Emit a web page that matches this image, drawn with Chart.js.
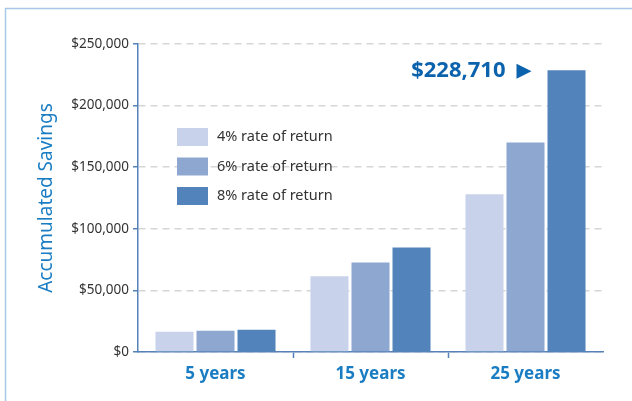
<!DOCTYPE html>
<html>
<head>
<meta charset="utf-8">
<title>Accumulated Savings</title>
<script src="https://cdn.jsdelivr.net/npm/chart.js@4.4.1/dist/chart.umd.min.js"></script>
<style>
    html, body { margin: 0; padding: 0; background: #ffffff; }
    #wrap { position: relative; width: 632px; height: 401px; }
</style>
</head>
<body>
<div id="wrap"><canvas id="savingsChart" width="632" height="401"></canvas></div>
<script>
// ==========================================
// Data
// ==========================================
const categorias = ['5 years', '15 years', '25 years'];
const serieLabels = ['4% rate of return', '6% rate of return', '8% rate of return'];
const rate4 = [16500, 61500, 128000];
const rate6 = [17300, 72600, 170000];
const rate8 = [18100, 84800, 228710];
const yTicks = [0, 50000, 100000, 150000, 200000, 250000];

// Colours for each rate (light -> dark)
const colores = ['#c8d2ea', '#8ea7d0', '#5383bb'];
const azulTexto = '#1a7dc3';
const azulEje = '#5583b9';

Chart.defaults.font.family = '"Noto Sans", "DejaVu Sans", sans-serif';

const fmt = v => '$' + v.toLocaleString('en-US');

// ==========================================
// Plugins
// ==========================================

// Light blue frame at the top and left of the picture
const framePlugin = {
    id: 'frame',
    beforeDraw(chart) {
        const ctx = chart.ctx;
        ctx.save();
        ctx.strokeStyle = '#a9c7e8';
        ctx.lineWidth = 1.5;
        ctx.beginPath();
        ctx.moveTo(5.5, chart.height);
        ctx.lineTo(5.5, 8.5);
        ctx.lineTo(chart.width, 8.5);
        ctx.stroke();
        ctx.restore();
    }
};

// Legend drawn inside the chart area, top-left
const legendPlugin = {
    id: 'insideLegend',
    afterDatasetsDraw(chart) {
        const ctx = chart.ctx;
        const area = chart.chartArea;
        const x = area.left + 39;
        let y = area.top + 84;
        ctx.save();
        ctx.font = '14.5px "Noto Sans", sans-serif';
        ctx.textBaseline = 'middle';
        chart.data.datasets.forEach(ds => {
            ctx.fillStyle = ds.backgroundColor;
            ctx.fillRect(x, y, 31, 18);
            ctx.fillStyle = '#333333';
            ctx.fillText(ds.label, x + 40, y + 9);
            y += 29.5;
        });
        ctx.restore();
    }
};

// "$228,710 ▶" callout pointing at the tallest bar
const calloutPlugin = {
    id: 'callout',
    afterDatasetsDraw(chart) {
        const last = rate8.length - 1;
        const bar = chart.getDatasetMeta(2).data[last];
        if (!bar) return;
        const ctx = chart.ctx;
        const tip = bar.x - bar.width / 2 - 16;
        const cy = bar.y + 1;
        ctx.save();
        ctx.fillStyle = '#0b62ad';
        ctx.beginPath();
        ctx.moveTo(tip, cy);
        ctx.lineTo(tip - 15, cy - 7.5);
        ctx.lineTo(tip - 15, cy + 7.5);
        ctx.closePath();
        ctx.fill();
        ctx.font = 'bold 22px "Noto Sans", sans-serif';
        ctx.textAlign = 'right';
        ctx.textBaseline = 'middle';
        ctx.fillText(fmt(rate8[last]), tip - 26, cy);
        ctx.restore();
    }
};

// ==========================================
// Chart
// ==========================================
const series = [rate4, rate6, rate8];

new Chart(document.getElementById('savingsChart').getContext('2d'), {
    type: 'bar',
    data: {
        labels: categorias,
        datasets: series.map((vals, i) => ({
            label: serieLabels[i],
            data: vals,
            backgroundColor: colores[i],
            borderWidth: 0,
            categoryPercentage: 0.794,
            barPercentage: 0.927
        }))
    },
    options: {
        responsive: false,
        animation: false,
        layout: { padding: { top: 44, right: 29, left: 0, bottom: 0 } },
        plugins: {
            legend: { display: false },
            tooltip: { enabled: false }
        },
        scales: {
            x: {
                offset: true,
                grid: {
                    offset: true,
                    drawOnChartArea: false,
                    tickLength: 6,
                    tickWidth: 1.5,
                    color: c => (c.index === 0 || c.index === undefined) ? 'rgba(0,0,0,0)' : azulEje
                },
                border: { color: azulEje, width: 1.5 },
                ticks: {
                    color: azulTexto,
                    font: { size: 17, weight: 'bold' },
                    padding: 6
                },
                afterFit: s => { s.height = 49; }
            },
            y: {
                min: yTicks[0],
                max: yTicks[yTicks.length - 1],
                afterBuildTicks: s => { s.ticks = yTicks.map(v => ({ value: v })); },
                grid: {
                    color: '#d6d6d6',
                    lineWidth: 1.5,
                    tickColor: azulEje,
                    tickLength: 5,
                    tickWidth: 1.5
                },
                border: { color: azulEje, width: 1.5, dash: [7, 5] },
                ticks: {
                    color: '#333333',
                    font: { size: 13.5 },
                    padding: 4,
                    callback: v => fmt(v)
                },
                title: {
                    display: true,
                    text: 'Accumulated Savings',
                    color: azulTexto,
                    font: { size: 19 },
                    padding: { top: 35, bottom: 0 }
                },
                afterFit: s => { s.width = 138; }
            }
        }
    },
    plugins: [framePlugin, legendPlugin, calloutPlugin]
});
</script>
</body>
</html>
